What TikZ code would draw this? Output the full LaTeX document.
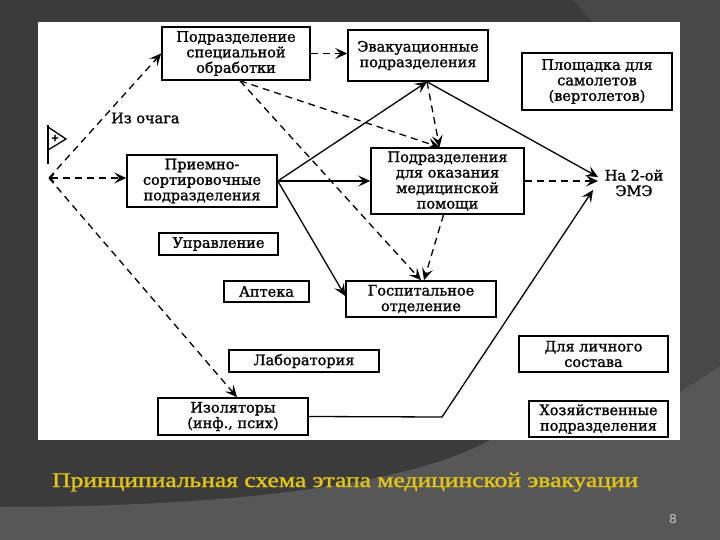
\documentclass[tikz,border=0pt]{standalone}
\usepackage{fontspec}
\usepackage{graphicx}
\setmainfont[FakeBold=1.3]{DejaVu Serif}
\newfontfamily\capfont[FakeBold=1.2]{Liberation Serif}
\newfontfamily\numfont{Liberation Sans}
\usetikzlibrary{arrows.meta,calc}
\definecolor{bgdark}{RGB}{59,59,59}
\definecolor{bgmid}{RGB}{72,72,72}
\definecolor{bglight}{RGB}{87,87,87}
\definecolor{capyellow}{RGB}{228,198,20}
\definecolor{numgray}{RGB}{205,205,205}
\tikzset{
  txt/.style={font=\fontsize{14.5}{15.5}\selectfont, align=center},
  box/.style={txt, draw, line width=1.6pt, inner sep=0pt},
  arr/.style={line width=1.3pt, -{Stealth[length=12pt,width=11pt,inset=5pt]}},
  dsh/.style={dash pattern=on 7pt off 5pt},
}
\begin{document}
\begin{tikzpicture}[x=1pt,y=-1pt]
\useasboundingbox (0,0) rectangle (720,540);
% background
\fill[bgdark] (0,0) rectangle (720,540);
\fill[bgmid] (573,0) -- (720,0) -- (720,366) -- (680,392) -- (600,30) -- cycle;
\fill[bglight] (0,507) .. controls (200,507) and (400,490) .. (490,440) -- (680,392) -- (720,366) -- (720,540) -- (0,540) -- cycle;
\fill[white] (38,22) rectangle (680,440);

% boxes
\node[box, minimum width=148pt, minimum height=53pt] (n1) at (236,53.5) {Подразделение\\специальной\\обработки};
\node[box, minimum width=140pt, minimum height=51pt] (n2) at (418,55.5) {Эвакуационные\\подразделения};
\node[box, minimum width=150pt, minimum height=57pt] (n3) at (597,81.5) {Площадка для\\самолетов\\(вертолетов)};
\node[box, minimum width=150pt, minimum height=52pt] (n4) at (202,181) {Приемно-\\сортировочные\\подразделения};
\node[box, minimum width=153pt, minimum height=66pt] (n5) at (447.5,181) {Подразделения\\для оказания\\медицинской\\помощи};
\node[box, minimum width=119pt, minimum height=22pt] (n6) at (218.5,244) {Управление};
\node[box, minimum width=85pt, minimum height=21pt] (n7) at (266.5,291.5) {Аптека};
\node[box, minimum width=150pt, minimum height=36pt] (n8) at (421,299) {Госпитальное\\отделение};
\node[box, minimum width=150pt, minimum height=22pt] (n9) at (304,361) {Лаборатория};
\node[box, minimum width=150pt, minimum height=37pt] (n10) at (233,416.5) {Изоляторы\\(инф., псих)};
\node[box, minimum width=149pt, minimum height=36pt] (n11) at (593.5,354) {Для личного\\состава};
\node[box, minimum width=139pt, minimum height=36pt] (n12) at (598.5,419) {Хозяйственные\\подразделения};

% free labels
\node[txt, anchor=west, inner sep=0pt] (iz) at (111,118) {Из очага};
\node[txt, inner sep=0pt] (na2) at (634,183) {На 2-ой\\ЭМЭ};

% flag
\draw[line width=1.4pt] (48,125) -- (48,164);
\draw[line width=1.3pt, line join=miter] (48,127) -- (66,139) -- (48,150);
\node[font=\fontsize{10}{10}\selectfont\bfseries, inner sep=0pt] (plus) at (55,138) {+};

% coordinates
\coordinate (src) at (49,178);
\coordinate (t2) at (598,182);
\coordinate (c1) at (442,417);
\coordinate (o1) at ($(n1.south)+(4,0)$);
\coordinate (p5) at ($(n5.north)+(-8,0)$);
\coordinate (e2) at ($(n2.south)+(9,0)$);

% dashed connectors
\draw[dsh, line width=1.3pt, {Straight Barb[length=4pt,width=8pt]}-{Stealth[length=12pt,width=11pt,inset=5pt]}] (src) -- (n4.west |- src);
\draw[dsh, arr] (src) -- (n1.west);
\draw[dsh, arr] (src) -- ($(n10.north)+(4,0)$);
\draw[dsh, arr] (n1.east) -- (n1.east -| n2.west);
\draw[dsh, arr] (o1) -- (p5);
\draw[dsh, arr] (o1) -- (n8.north);
\draw[dsh, arr] (e2) -- (p5);
\draw[dsh, arr] ($(n5.south)+(-4,0)$) -- ($(n8.north)+(3,0)$);
\draw[dsh, arr] (n5.east) -- (n5.east -| t2);

% solid connectors
\draw[arr] (n4.east) -- (e2);
\draw[arr] (n4.east) -- (n4.east -| n5.west);
\draw[arr] (n4.east) -- ($(n8.west)+(0,-3)$);
\draw[arr] (e2) -- ($(t2)+(0,-5)$);
\draw[arr] (n10.east) -- (c1) -- ($(t2)+(-5,8)$);

% caption
\node[anchor=base west, inner sep=0pt, text=capyellow, font=\capfont\fontsize{21}{21}\selectfont] (cap) at (52,487) {\resizebox{586pt}{\height}{Принципиальная схема этапа медицинской эвакуации}};
\node[font=\numfont\fontsize{13}{13}\selectfont, text=numgray, inner sep=0pt] (pg) at (673,519) {8};
\end{tikzpicture}
\end{document}
